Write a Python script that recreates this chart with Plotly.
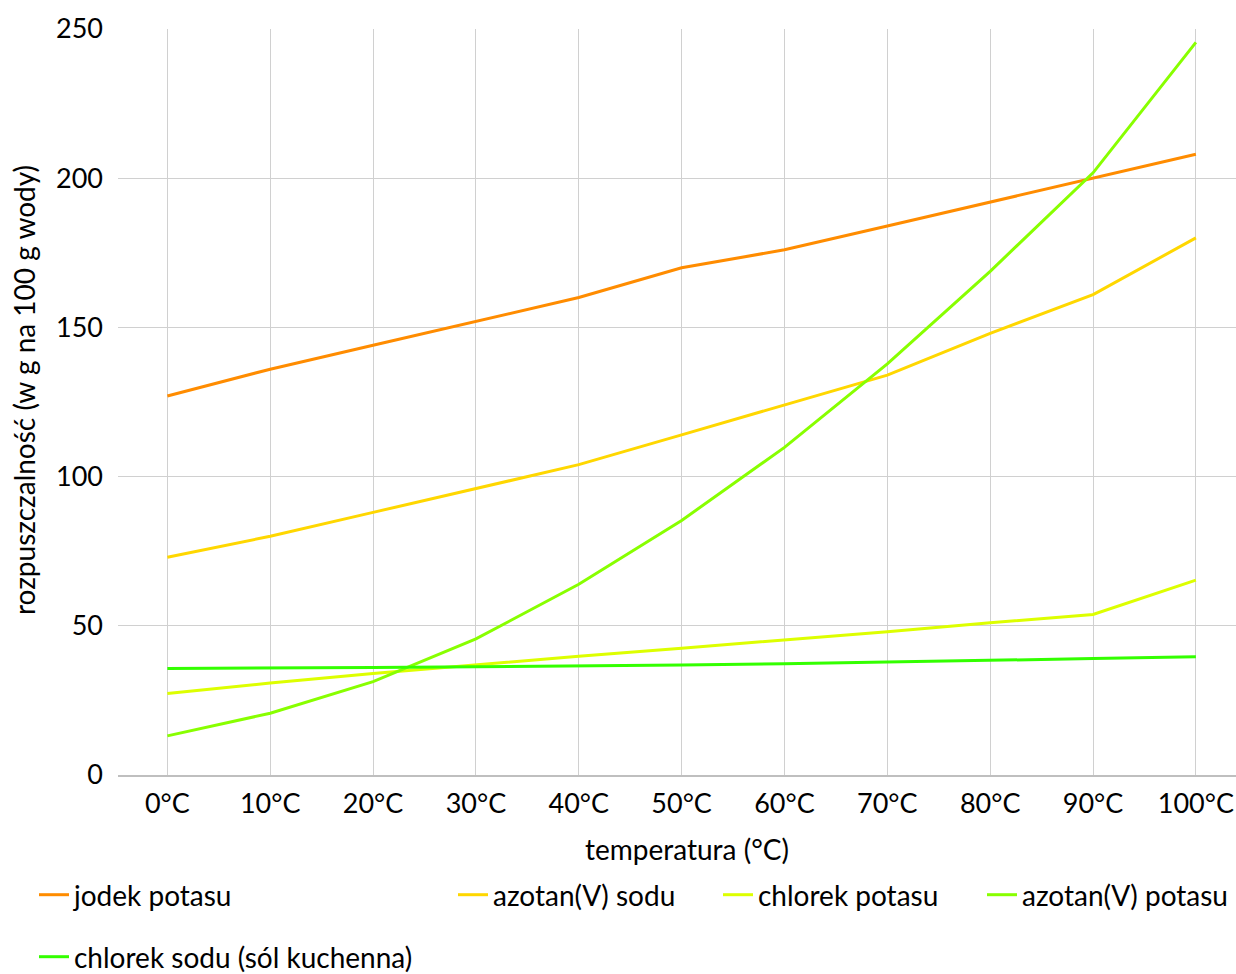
import plotly.graph_objects as go

temps = ["0°C", "10°C", "20°C", "30°C", "40°C", "50°C", "60°C", "70°C", "80°C", "90°C", "100°C"]

jodek_potasu = [127, 136, 144, 152, 160, 170, 176, 184, 192, 200, 208]
azotan_sodu = [73, 80, 88, 96, 104, 114, 124, 134, 148, 161, 180]
chlorek_potasu = [27.3, 30.8, 34, 37, 39.8, 42.5, 45.2, 48, 51, 53.8, 65.3]
azotan_potasu = [13.1, 20.7, 31.3, 45.6, 63.9, 85.3, 109.8, 137.8, 168.8, 201.8, 245.5]
chlorek_sodu = [35.7, 35.8, 36, 36.3, 36.5, 36.9, 37.3, 37.8, 38.4, 39, 39.6]

names = ["jodek potasu", "azotan(V) sodu", "chlorek potasu", "azotan(V) potasu", "chlorek sodu (sól kuchenna)"]
series = [jodek_potasu, azotan_sodu, chlorek_potasu, azotan_potasu, chlorek_sodu]
colors = ["#FF8C00", "#FFD700", "#DDFF00", "#88FF00", "#33FF00"]
legends = ["legend", "legend2", "legend3", "legend4", "legend5"]

fig = go.Figure()
for n, s, c, lg in zip(names, series, colors, legends):
    fig.add_trace(go.Scatter(x=temps, y=s, name=n, mode="lines",
                             line=dict(color=c, width=3), legend=lg))

FONT = "Lato"
FW, FH = 1236, 974
W0, W1, T, B = 118, FW, 29, 775
PW, PH = W1 - W0, B - T

def lx(px):
    return (px - W0) / PW

def ly(py):
    return (B - py) / PH

leg_common = dict(orientation="h", xanchor="left", yanchor="middle",
                  font=dict(family=FONT, size=28, color="#000000"),
                  bgcolor="rgba(0,0,0,0)", borderwidth=0, itemwidth=30)

fig.update_layout(
    width=FW, height=FH,
    margin=dict(l=W0, r=0, t=T, b=FH - B, autoexpand=False),
    plot_bgcolor="white", paper_bgcolor="white",
    font=dict(family=FONT, size=27, color="#000000"),
    xaxis=dict(type="category", range=[-0.48, 10.39], automargin=False,
               showgrid=True, gridcolor="#D0D0D0", gridwidth=1,
               showline=True, linecolor="#BFBFBF", linewidth=1.5,
               ticks="", tickfont=dict(family=FONT, size=27), ticklabelstandoff=4),
    yaxis=dict(range=[0, 250], tickvals=[0, 50, 100, 150, 200, 250], automargin=False,
               showgrid=True, gridcolor="#D0D0D0", gridwidth=1,
               zeroline=False, showline=False, ticks="",
               tickfont=dict(family=FONT, size=27), ticklabelstandoff=14),
    annotations=[
        dict(text="rozpuszczalność (w g na 100 g wody)", textangle=-90,
             xref="paper", yref="paper", x=lx(24), y=ly(390),
             xanchor="center", yanchor="middle", showarrow=False,
             font=dict(family=FONT, size=28, color="#000000")),
        dict(text="temperatura (°C)",
             xref="paper", yref="paper", x=lx(687), y=ly(849),
             xanchor="center", yanchor="middle", showarrow=False,
             font=dict(family=FONT, size=28, color="#000000")),
    ],
    legend=dict(x=lx(34), y=ly(895), **leg_common),
    legend2=dict(x=lx(453), y=ly(895), **leg_common),
    legend3=dict(x=lx(718), y=ly(895), **leg_common),
    legend4=dict(x=lx(982), y=ly(895), **leg_common),
    legend5=dict(x=lx(34), y=ly(957), **leg_common),
    showlegend=True,
)

fig.write_html(
    "out.html",
    config={"displayModeBar": False},
    post_script="document.body.style.margin='0';"
                "document.documentElement.style.overflow='hidden';"
                "document.body.style.overflow='hidden';",
)
